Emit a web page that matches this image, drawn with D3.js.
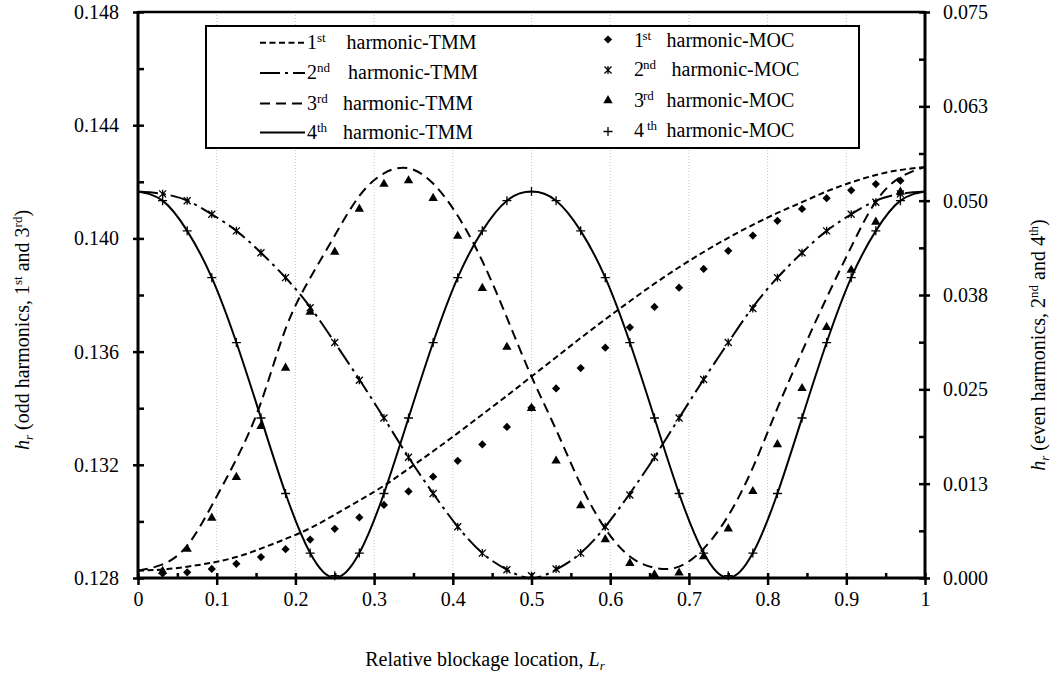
<!DOCTYPE html>
<html>
<head>
<meta charset="utf-8">
<script src="https://cdn.jsdelivr.net/npm/d3@7"></script>
<style>
    body { margin: 0; background: #fff; }
    svg, svg text { font-family: "Liberation Serif", "Times New Roman", "DejaVu Serif", "Noto Serif", serif; fill: #000; }
</style>
</head>
<body>
<script>
// relative blockage location of the TMM curve points and of the MOC markers
const tmmLoc = [0, 0.03125, 0.0625, 0.09375, 0.125, 0.15625, 0.1875, 0.21875, 0.25, 0.28125,
    0.3125, 0.34375, 0.375, 0.40625, 0.4375, 0.46875, 0.5, 0.53125, 0.5625, 0.59375, 0.625,
    0.65625, 0.6875, 0.71875, 0.75, 0.78125, 0.8125, 0.84375, 0.875, 0.90625, 0.9375, 0.96875, 1];
const mocLoc = [0.03125, 0.0625, 0.09375, 0.125, 0.15625, 0.1875, 0.21875, 0.25, 0.28125,
    0.3125, 0.34375, 0.375, 0.40625, 0.4375, 0.46875, 0.5, 0.53125, 0.5625, 0.59375, 0.625,
    0.65625, 0.6875, 0.71875, 0.75, 0.78125, 0.8125, 0.84375, 0.875, 0.90625, 0.9375, 0.96875];

// odd harmonics (left axis)
const harm1TMM = [0.12826, 0.12830, 0.12840, 0.12854, 0.12874, 0.12904, 0.12938, 0.12976, 0.13024,
    0.13074, 0.13126, 0.13186, 0.13248, 0.13312, 0.13378, 0.13444, 0.13512, 0.13580, 0.13648,
    0.13714, 0.13778, 0.13840, 0.13898, 0.13952, 0.14002, 0.14048, 0.14090, 0.14128, 0.14166,
    0.14198, 0.14224, 0.14242, 0.14252];
const harm1MOC = [0.12816, 0.12820, 0.12832, 0.12850, 0.12874, 0.12902, 0.12936, 0.12974, 0.13014,
    0.13058, 0.13106, 0.13158, 0.13214, 0.13272, 0.13334, 0.13402, 0.13470, 0.13542, 0.13614,
    0.13686, 0.13758, 0.13826, 0.13892, 0.13956, 0.14010, 0.14062, 0.14104, 0.14142, 0.14170,
    0.14192, 0.14204];
const harm3TMM = [0.12826, 0.12848, 0.12914, 0.13056, 0.13220, 0.13420, 0.13680, 0.13860, 0.14010,
    0.14150, 0.14230, 0.14248, 0.14194, 0.14080, 0.13920, 0.13720, 0.13512, 0.13324, 0.13130,
    0.12974, 0.12876, 0.12836, 0.12840, 0.12904, 0.13020, 0.13190, 0.13400, 0.13600, 0.13790,
    0.13970, 0.14130, 0.14216, 0.14252];
const harm3MOC = [0.12824, 0.12902, 0.13012, 0.13156, 0.13336, 0.13542, 0.13740, 0.13952, 0.14104,
    0.14192, 0.14204, 0.14142, 0.14008, 0.13824, 0.13616, 0.13400, 0.13214, 0.13056, 0.12936,
    0.12852, 0.12812, 0.12818, 0.12876, 0.12974, 0.13106, 0.13272, 0.13470, 0.13686, 0.13888,
    0.14058, 0.14164];

// even harmonics (right axis)
const harm2TMM = [0.0512, 0.0509, 0.0500, 0.0482, 0.0460, 0.0431, 0.0398, 0.0359, 0.0312, 0.0263,
    0.0212, 0.0160, 0.0112, 0.0068, 0.0033, 0.0011, 0.0000, 0.0011, 0.0033, 0.0068, 0.0112,
    0.0160, 0.0212, 0.0263, 0.0312, 0.0359, 0.0398, 0.0431, 0.0460, 0.0482, 0.0500, 0.0509, 0.0512];
const harm2MOC = [0.0509, 0.0500, 0.0482, 0.0460, 0.0431, 0.0398, 0.0358, 0.0312, 0.0262, 0.0212,
    0.0160, 0.0112, 0.0068, 0.0033, 0.0011, 0.0003, 0.0012, 0.0033, 0.0068, 0.0110, 0.0160,
    0.0212, 0.0263, 0.0312, 0.0357, 0.0398, 0.0431, 0.0460, 0.0482, 0.0498, 0.0509];
const harm4TMM = [0.0512, 0.0500, 0.0460, 0.0398, 0.0312, 0.0212, 0.0112, 0.0033, 0.0000, 0.0033,
    0.0112, 0.0212, 0.0312, 0.0398, 0.0460, 0.0500, 0.0512, 0.0500, 0.0460, 0.0398, 0.0312,
    0.0212, 0.0112, 0.0033, 0.0000, 0.0033, 0.0112, 0.0212, 0.0312, 0.0398, 0.0460, 0.0500, 0.0512];
const harm4MOC = [0.0500, 0.0460, 0.0398, 0.0312, 0.0212, 0.0112, 0.0033, 0.0003, 0.0033, 0.0112,
    0.0212, 0.0312, 0.0398, 0.0460, 0.0500, 0.0512, 0.0500, 0.0460, 0.0398, 0.0312, 0.0212,
    0.0112, 0.0033, 0.0003, 0.0033, 0.0112, 0.0212, 0.0312, 0.0398, 0.0460, 0.0500];

// ticks
const xTicks = [0, 0.1, 0.2, 0.3, 0.4, 0.5, 0.6, 0.7, 0.8, 0.9, 1];
const xTickLabels = ["0", "0.1", "0.2", "0.3", "0.4", "0.5", "0.6", "0.7", "0.8", "0.9", "1"];
const xMinorTicks = [0.05, 0.15, 0.25, 0.35, 0.45, 0.55, 0.65, 0.75, 0.85, 0.95];
const gridTicks = [0.1, 0.2, 0.3, 0.4, 0.5, 0.6, 0.7, 0.8, 0.9];
const oddTicks = [0.128, 0.132, 0.136, 0.140, 0.144, 0.148];
const oddMinorTicks = [0.130, 0.134, 0.138, 0.142, 0.146];
const evenTicks = [0, 0.0125, 0.025, 0.0375, 0.05, 0.0625, 0.075];
const evenTickLabels = ["0.000", "0.013", "0.025", "0.038", "0.050", "0.063", "0.075"];
const evenMinorTicks = [0.00625, 0.01875, 0.03125, 0.04375, 0.05625, 0.06875];

const ordinals = ["1", "2", "3", "4"];
const suffixes = ["st", "nd", "rd", "th"];

const serif = "'Liberation Serif', 'Times New Roman', 'DejaVu Serif', 'Noto Serif', serif";

const margin = { top: 12, right: 131, bottom: 110, left: 138 };
const width = 1056 - margin.left - margin.right;
const height = 688 - margin.top - margin.bottom;

const svg = d3.select("body").append("svg")
    .attr("width", 1056)
    .attr("height", 688)
    .attr("font-family", serif);
const g = svg.append("g")
    .attr("transform", "translate(" + margin.left + "," + margin.top + ")");

const x = d3.scaleLinear().domain([0, 1]).range([0, width]);
const yOdd = d3.scaleLinear().domain([0.128, 0.148]).range([height, 0]);
const yEven = d3.scaleLinear().domain([0, 0.075]).range([height, 0]);

// vertical dotted grid
g.append("g")
    .selectAll("line")
    .data(gridTicks)
    .join("line")
    .attr("x1", d => x(d)).attr("x2", d => x(d))
    .attr("y1", 0).attr("y2", height)
    .attr("stroke", "#c4c4c4")
    .attr("stroke-width", 1)
    .attr("stroke-dasharray", "1,2");

// TMM curves
const series = [
    { vals: harm1TMM, y: yOdd, dash: "6,3.5" },
    { vals: harm2TMM, y: yEven, dash: "20,5,3,5" },
    { vals: harm3TMM, y: yOdd, dash: "10,6" },
    { vals: harm4TMM, y: yEven, dash: null }
];
series.forEach(s => {
    const line = d3.line()
        .x((d, i) => x(tmmLoc[i]))
        .y(d => s.y(d))
        .curve(d3.curveNatural);
    g.append("path")
        .datum(s.vals)
        .attr("d", line)
        .attr("fill", "none")
        .attr("stroke", "#000")
        .attr("stroke-width", 2)
        .attr("stroke-dasharray", s.dash);
});

// marker shapes
const diamond = d3.symbol(d3.symbolSquare, 34)();
const triangle = d3.symbol(d3.symbolTriangle, 38)();
const star = "M-3.5,-3.5L3.5,3.5M-3.5,3.5L3.5,-3.5M0,-4L0,4";
const plus = "M-4.5,0L4.5,0M0,-4.5L0,4.5";

function drawMarkers(vals, y, shape, filled, rot) {
    g.append("g")
        .selectAll("path")
        .data(vals)
        .join("path")
        .attr("d", shape)
        .attr("transform", (d, i) => "translate(" + x(mocLoc[i]) + "," + y(d) + ")" + (rot ? " rotate(45)" : ""))
        .attr("fill", filled ? "#000" : "none")
        .attr("stroke", filled ? "none" : "#000")
        .attr("stroke-width", 1.3);
}
drawMarkers(harm1MOC, yOdd, diamond, true, true);
drawMarkers(harm2MOC, yEven, star, false, false);
drawMarkers(harm3MOC, yOdd, triangle, true, false);
drawMarkers(harm4MOC, yEven, plus, false, false);

// axes
const leftAxis = g.append("g")
    .call(d3.axisLeft(yOdd).tickValues(oddTicks).tickFormat(d3.format(".3f"))
        .tickSizeInner(5).tickSizeOuter(0).tickPadding(14));
leftAxis.selectAll(".tick line").attr("x1", 6).attr("stroke-width", 2.5);
g.append("g")
    .call(d3.axisLeft(yOdd).tickValues(oddMinorTicks).tickFormat("").tickSizeInner(-6).tickSizeOuter(0))
    .selectAll(".tick line").attr("stroke-width", 2.5);

const rightAxis = g.append("g")
    .attr("transform", "translate(" + width + ",0)")
    .call(d3.axisRight(yEven).tickValues(evenTicks).tickFormat((d, i) => evenTickLabels[i])
        .tickSizeInner(5).tickSizeOuter(0).tickPadding(13));
rightAxis.selectAll(".tick line").attr("x1", -6).attr("stroke-width", 2.5);
g.append("g")
    .attr("transform", "translate(" + width + ",0)")
    .call(d3.axisRight(yEven).tickValues(evenMinorTicks).tickFormat("").tickSizeInner(-6).tickSizeOuter(0))
    .selectAll(".tick line").attr("stroke-width", 2.5);

const bottomAxis = g.append("g")
    .attr("transform", "translate(0," + height + ")")
    .call(d3.axisBottom(x).tickValues(xTicks).tickFormat((d, i) => xTickLabels[i])
        .tickSizeInner(7).tickSizeOuter(0).tickPadding(7));
bottomAxis.selectAll(".tick line").attr("y1", -5).attr("stroke-width", 2.5);
g.append("g")
    .attr("transform", "translate(0," + height + ")")
    .call(d3.axisBottom(x).tickValues(xMinorTicks).tickFormat("").tickSizeInner(-5).tickSizeOuter(0))
    .selectAll(".tick line").attr("stroke-width", 2.5);

g.selectAll(".domain").remove();
// d3 axes put font-family="sans-serif" on their group, so reset it
g.selectAll("g").attr("font-family", serif).attr("font-size", 20);
g.selectAll(".tick text").attr("fill", "#000");

// frame lines
g.append("line").attr("x1", 0).attr("x2", width).attr("y1", 0).attr("y2", 0)
    .attr("stroke", "#000").attr("stroke-width", 2.5);
g.append("line").attr("x1", 0).attr("x2", width).attr("y1", height).attr("y2", height)
    .attr("stroke", "#000").attr("stroke-width", 3);
g.append("line").attr("x1", 0).attr("x2", 0).attr("y1", -1).attr("y2", height + 1.5)
    .attr("stroke", "#000").attr("stroke-width", 3);
g.append("line").attr("x1", width).attr("x2", width).attr("y1", -1).attr("y2", height + 1.5)
    .attr("stroke", "#000").attr("stroke-width", 3);

// legend
svg.append("rect")
    .attr("x", 206).attr("y", 26).attr("width", 653).attr("height", 122)
    .attr("fill", "#fff").attr("stroke", "#000").attr("stroke-width", 2);

const tmmRowY = [42.7, 73, 103.5, 132.5];
const tmmBase = [48.5, 79, 109.5, 138.5];
const tmmWordX = [346.5, 348, 343, 343];
const mocRowY = [39.5, 70, 100.5, 131.5];
const mocBase = [46.5, 76, 107, 137];
const mocSupX = [642.5, 643, 643, 647];
const mocWordX = [666.5, 671.5, 666.5, 666.5];

series.forEach((s, i) => {
    svg.append("line")
        .attr("x1", 260).attr("x2", 305)
        .attr("y1", tmmRowY[i]).attr("y2", tmmRowY[i])
        .attr("stroke", "#000").attr("stroke-width", 2)
        .attr("stroke-dasharray", s.dash);
    const t = svg.append("text").attr("x", 307).attr("y", tmmBase[i]).style("font-size", "20px");
    t.append("tspan").text(ordinals[i]);
    t.append("tspan").attr("dy", -7).style("font-size", "13px").text(suffixes[i]);
    t.append("tspan").attr("x", tmmWordX[i]).attr("dy", 7).text("harmonic-TMM");

    const m = svg.append("text").attr("x", 634).attr("y", mocBase[i]).style("font-size", "20px");
    m.append("tspan").text(ordinals[i]);
    m.append("tspan").attr("x", mocSupX[i]).attr("dy", -7).style("font-size", "13px").text(suffixes[i]);
    m.append("tspan").attr("x", mocWordX[i]).attr("dy", 7).text("harmonic-MOC");
});
const legendShapes = [[diamond, true, true], [star, false, false], [triangle, true, false], [plus, false, false]];
legendShapes.forEach((s, i) => {
    svg.append("path")
        .attr("d", s[0])
        .attr("transform", "translate(608," + mocRowY[i] + ")" + (s[2] ? " rotate(45)" : ""))
        .attr("fill", s[1] ? "#000" : "none")
        .attr("stroke", s[1] ? "none" : "#000")
        .attr("stroke-width", 1.3);
});

// axis titles
function yTitle(cx, cy, words, n1, s1, n2, s2) {
    const t = svg.append("text")
        .attr("transform", "translate(" + cx + "," + cy + ") rotate(-90)")
        .attr("text-anchor", "middle")
        .style("font-size", "20px");
    t.append("tspan").style("font-style", "italic").text("h");
    t.append("tspan").style("font-style", "italic").style("font-size", "13px").attr("dy", 4).text("r");
    t.append("tspan").attr("dy", -4).text(" (" + words + " harmonics, " + n1);
    t.append("tspan").style("font-size", "13px").attr("dy", -7).text(s1);
    t.append("tspan").attr("dy", 7).text(" and " + n2);
    t.append("tspan").style("font-size", "13px").attr("dy", -7).text(s2);
    t.append("tspan").attr("dy", 7).text(")");
}
yTitle(29, 330, "odd", "1", "st", "3", "rd");
yTitle(1045, 345, "even", "2", "nd", "4", "th");

const xt = svg.append("text")
    .attr("x", 485)
    .attr("y", 666)
    .attr("text-anchor", "middle")
    .style("font-size", "20px");
xt.append("tspan").text("Relative blockage location, ");
xt.append("tspan").style("font-style", "italic").text("L");
xt.append("tspan").style("font-style", "italic").style("font-size", "13px").attr("dy", 4).text("r");
</script>
</body>
</html>
